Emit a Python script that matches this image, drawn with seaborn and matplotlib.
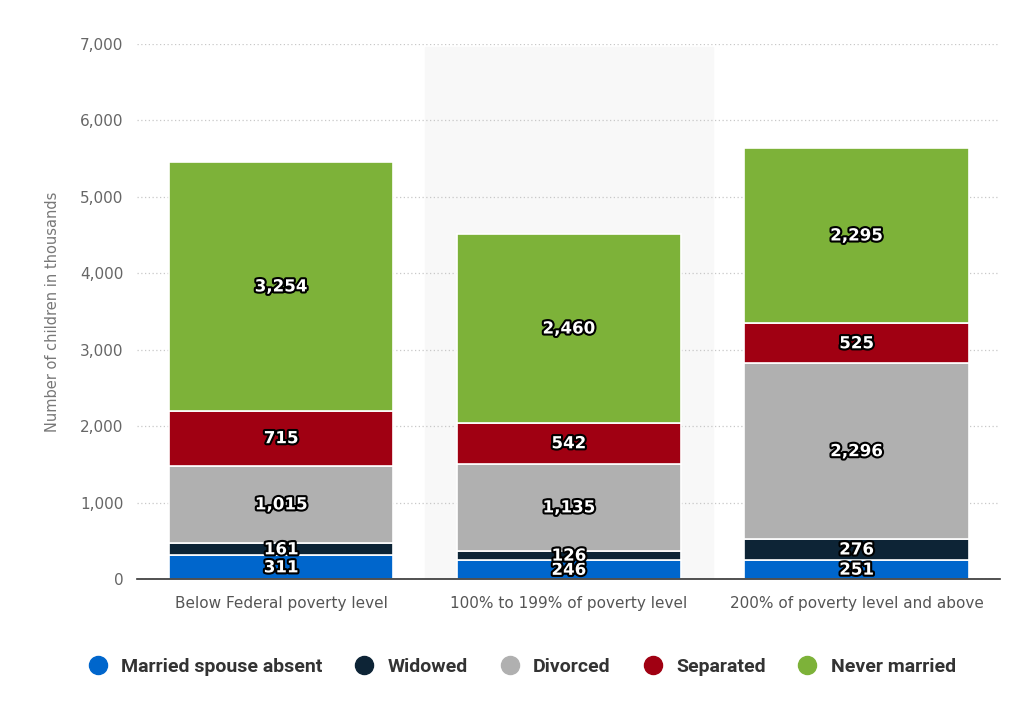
import seaborn as sns
import matplotlib.pyplot as plt
import matplotlib.patheffects as pe
from matplotlib.lines import Line2D
import pandas as pd

categories = ["Below Federal poverty level", "100% to 199% of poverty level", "200% of poverty level and above"]
series = ["Married spouse absent", "Widowed", "Divorced", "Separated", "Never married"]
married_absent = [311, 246, 251]
widowed = [161, 126, 276]
divorced = [1015, 1135, 2296]
separated = [715, 542, 525]
never_married = [3254, 2460, 2295]
colors = ["#0066cc", "#0d2436", "#b0b0b0", "#a00012", "#7db239"]

values = [married_absent, widowed, divorced, separated, never_married]

sns.set_style("white")
plt.rcParams["font.family"] = ["DejaVu Sans"]

fig = plt.figure(figsize=(10.24, 7.09), dpi=100)
ax = fig.add_axes([0.134, 0.183, 0.843, 0.755])

# light highlight behind middle category
ax.axvspan(0.5, 1.5, ymax=0.995, color="#f8f8f8", zorder=0)

bottoms = [0, 0, 0]
for name, vals, col in zip(series, values, colors):
    df = pd.DataFrame({"cat": categories, "val": vals})
    sns.barplot(data=df, x="cat", y="val", color=col, bottom=bottoms, width=0.78,
                edgecolor="white", linewidth=1.2, ax=ax, zorder=3, saturation=1)
    for i, v in enumerate(vals):
        ax.text(i, bottoms[i] + v / 2, f"{v:,}", ha="center", va="center",
                color="white", fontsize=12, fontweight="bold", zorder=5,
                path_effects=[pe.withStroke(linewidth=3, foreground="black")])
    bottoms = [b + v for b, v in zip(bottoms, vals)]

ax.set_xlim(-0.5, 2.5)
ax.set_ylim(0, 7000)
ax.set_yticks(range(0, 7001, 1000))
ax.set_yticklabels([f"{t:,}" for t in range(0, 7001, 1000)])
ax.yaxis.grid(True, linestyle=(0, (1, 2)), color="#c8c8c8", linewidth=0.9, zorder=1)
ax.set_axisbelow(True)
for s in ["top", "right", "left"]:
    ax.spines[s].set_visible(False)
ax.spines["bottom"].set_color("#333333")
ax.spines["bottom"].set_linewidth(1.2)
ax.spines["bottom"].set_zorder(6)
ax.tick_params(axis="both", length=0, labelsize=11, colors="#666666", pad=10)
ax.tick_params(axis="x", pad=12, labelcolor="#555555")
ax.set_xlabel("")
ax.set_ylabel("Number of children in thousands", fontsize=10.5, color="#777777", labelpad=14)

handles = [Line2D([0], [0], marker="o", linestyle="", markersize=13,
                  markerfacecolor=c, markeredgecolor=c) for c in colors]
fig.legend(handles, series, loc="center", bbox_to_anchor=(0.505, 0.059), ncol=5,
           frameon=False, handletextpad=0.2, columnspacing=1.15,
           prop={"family": ["Roboto", "DejaVu Sans"], "size": 14, "weight": "bold"},
           labelcolor="#333333")

fig.savefig("out.png", dpi=100)
